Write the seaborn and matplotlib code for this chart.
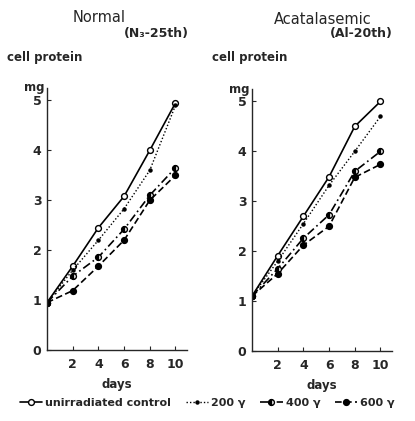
import matplotlib
matplotlib.use("Agg")
import matplotlib.pyplot as plt
import seaborn as sns
from matplotlib.lines import Line2D

# days of culture
days = [0, 2, 4, 6, 8, 10]

# cell protein (mg), Normal (N3-25th)
normal_control = [0.95, 1.68, 2.45, 3.08, 4.0, 4.95]
normal_200 = [0.95, 1.6, 2.2, 2.83, 3.6, 4.9]
normal_400 = [0.95, 1.48, 1.86, 2.42, 3.1, 3.65]
normal_600 = [0.95, 1.19, 1.68, 2.2, 3.0, 3.5]

# cell protein (mg), Acatalasemic (Al-20th)
acat_control = [1.1, 1.91, 2.7, 3.49, 4.5, 5.0]
acat_200 = [1.1, 1.8, 2.55, 3.32, 4.0, 4.7]
acat_400 = [1.1, 1.65, 2.26, 2.73, 3.6, 4.0]
acat_600 = [1.1, 1.55, 2.12, 2.5, 3.48, 3.74]

labels = ["unirradiated control", "200 γ", "400 γ", "600 γ"]
yticks = [0, 1, 2, 3, 4, 5]
xticks = [2, 4, 6, 8, 10]

sns.set_style("ticks")
plt.rcParams["font.family"] = ["DejaVu Sans"]

# line / marker style per series
styles = [
    dict(linestyle="-", marker="o", markersize=4.2, markerfacecolor="white", lw=1.2),
    dict(linestyle=(0, (1, 1.5)), marker="o", markersize=2.2, markerfacecolor="black", lw=1.0),
    dict(linestyle=(0, (5, 2, 1, 2)), marker="o", markersize=4.2, fillstyle="left",
         markerfacecoloralt="white", markerfacecolor="black", lw=1.2),
    dict(linestyle=(0, (4, 2)), marker="o", markersize=4.2, markerfacecolor="black", lw=1.2),
]

W, H = 415, 421
fig = plt.figure(figsize=(W / 100, H / 100), dpi=100)
ax1 = fig.add_axes([47 / W, 1 - 350 / H, 140 / W, 262 / H])
ax2 = fig.add_axes([252 / W, 1 - 351 / H, 140 / W, 262 / H])

panels = [
    (ax1, [normal_control, normal_200, normal_400, normal_600]),
    (ax2, [acat_control, acat_200, acat_400, acat_600]),
]

for ax, series in panels:
    for vals, st in zip(series, styles):
        sns.lineplot(x=days, y=vals, ax=ax, color="black", markeredgecolor="black",
                     markeredgewidth=1.0, **st)
    ax.set_xlim(0, 10.9)
    ax.set_ylim(0, 5.25)
    ax.set_xticks(xticks)
    ax.set_yticks(yticks)
    ax.tick_params(axis="both", direction="in", length=3, width=0.8, labelsize=9, pad=4)
    ax.tick_params(axis="x", pad=6)
    for lbl in ax.get_xticklabels() + ax.get_yticklabels():
        lbl.set_fontweight("bold")
    for s in ["top", "right"]:
        ax.spines[s].set_visible(False)
    for s in ["left", "bottom"]:
        ax.spines[s].set_linewidth(1.0)
    ax.set_xlabel("days", fontsize=8.5, fontweight="bold", labelpad=5)
    ax.set_ylabel("")
    ax.text(-0.02, 1.0, "mg", transform=ax.transAxes, ha="right", va="center",
            fontsize=8.5, fontweight="bold")

# titles and axis captions
fig.text(99 / W, 1 - 18 / H, "Normal", ha="center", va="center", fontsize=10.5)
fig.text(189 / W, 1 - 34 / H, "(N₃-25th)", ha="right", va="center", fontsize=9,
         fontweight="bold")
fig.text(7 / W, 1 - 58 / H, "cell protein", ha="left", va="center", fontsize=8.5,
         fontweight="bold")
fig.text(323 / W, 1 - 20 / H, "Acatalasemic", ha="center", va="center", fontsize=10.5)
fig.text(393 / W, 1 - 34 / H, "(Al-20th)", ha="right", va="center", fontsize=9,
         fontweight="bold")
fig.text(212 / W, 1 - 58 / H, "cell protein", ha="left", va="center", fontsize=8.5,
         fontweight="bold")

handles = [Line2D([0], [0], color="black", markeredgecolor="black", **st) for st in styles]
fig.legend(handles, labels, loc="center", bbox_to_anchor=(0.5, 1 - 403 / H), ncol=4,
           frameon=False, prop=dict(size=8, weight="bold"), handlelength=2.0,
           handletextpad=0.3, columnspacing=1.3, borderpad=0, borderaxespad=0)

fig.savefig("out.png", dpi=100)
